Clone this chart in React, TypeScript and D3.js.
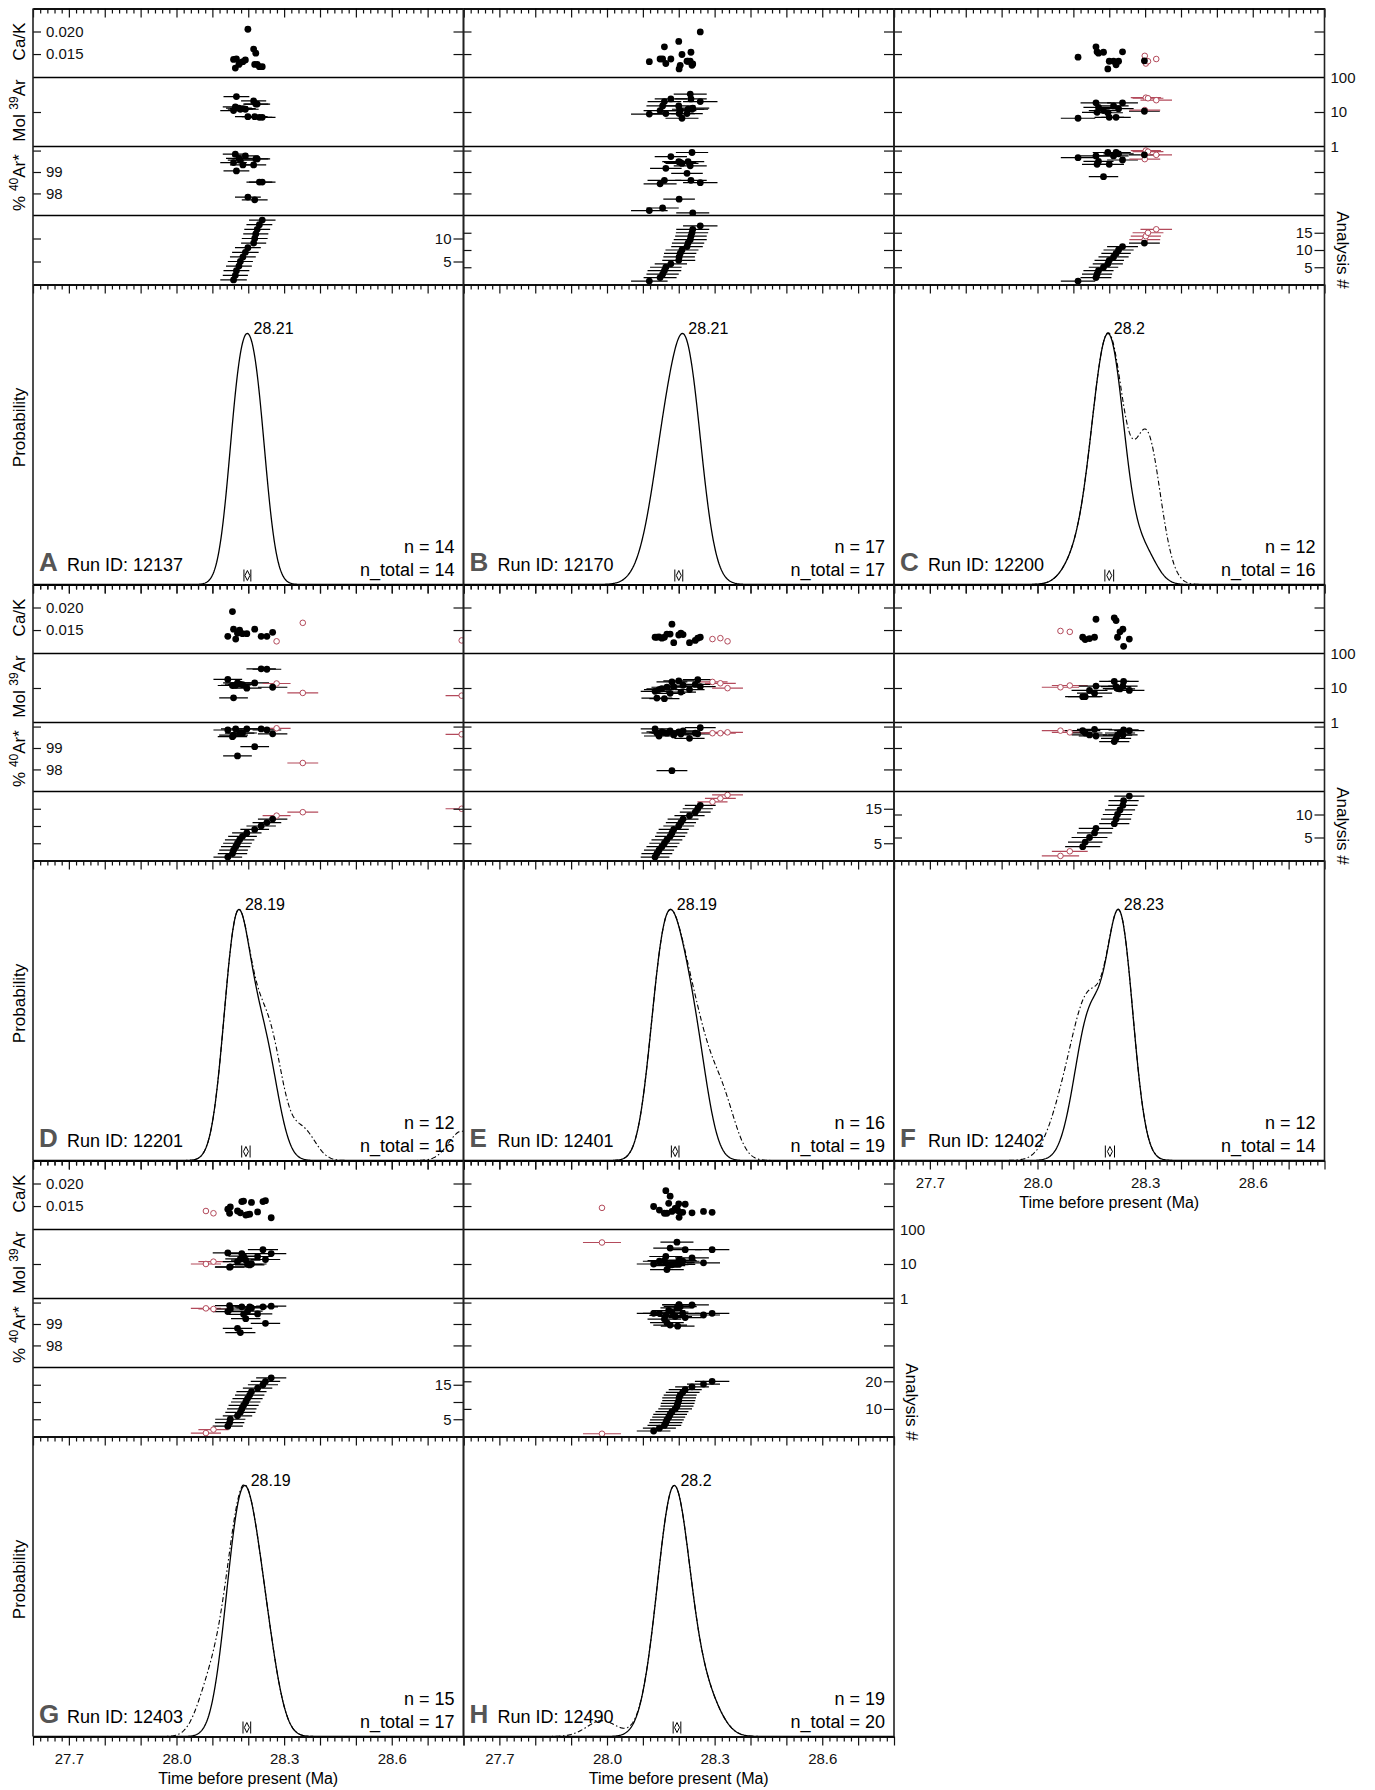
import React, { useEffect, useRef } from 'react';
import * as d3 from 'd3';

// one row per analysis: [age (Ma), 1 sigma (Ma), Ca/K, mol 39Ar, % 40Ar*, excluded]
const runA = [
  [28.159, 0.037, 0.0138, 11, 99.44, 0],
  [28.164, 0.035, 0.0119, 14, 99.83, 0],
  [28.167, 0.036, 0.0139, 28, 99.05, 0],
  [28.174, 0.036, 0.0127, 13, 99.64, 0],
  [28.178, 0.035, 0.0131, 12, 99.55, 0],
  [28.185, 0.036, 0.0133, 12.5, 99.33, 0],
  [28.192, 0.037, 0.0137, 12, 99.75, 0],
  [28.199, 0.036, 0.0205, 7.3, 97.83, 0],
  [28.215, 0.035, 0.0161, 21, 99.33, 0],
  [28.218, 0.036, 0.0127, 7.3, 97.7, 0],
  [28.221, 0.035, 0.0152, 17, 99.61, 0],
  [28.225, 0.036, 0.0127, 17, 99.61, 0],
  [28.231, 0.036, 0.0122, 7, 98.53, 0],
  [28.239, 0.037, 0.0122, 7, 98.53, 0],
];
const runB = [
  [28.118, 0.051, 0.0133, 8.7, 97.2, 0],
  [28.148, 0.046, 0.0139, 11, 98.45, 0],
  [28.155, 0.045, 0.0139, 15, 97.32, 0],
  [28.16, 0.047, 0.0166, 20, 98.61, 0],
  [28.164, 0.044, 0.0129, 9, 99.17, 0],
  [28.178, 0.045, 0.0139, 24, 99.72, 0],
  [28.2, 0.046, 0.0178, 15, 99.48, 0],
  [28.201, 0.044, 0.0117, 9, 97.73, 0],
  [28.204, 0.045, 0.0125, 11, 99.45, 0],
  [28.209, 0.046, 0.0149, 6.6, 99.4, 0],
  [28.223, 0.044, 0.0134, 9, 98.94, 0],
  [28.226, 0.045, 0.0134, 12, 99.48, 0],
  [28.232, 0.046, 0.0134, 33, 99.29, 0],
  [28.234, 0.044, 0.0154, 24, 98.61, 0],
  [28.237, 0.045, 0.0125, 12, 99.91, 0],
  [28.239, 0.046, 0.0128, 13, 97.09, 0],
  [28.26, 0.048, 0.0199, 20, 98.5, 0],
];
const runC = [
  [28.113, 0.048, 0.0143, 6.6, 99.67, 0],
  [28.163, 0.043, 0.0166, 18.5, 99.75, 0],
  [28.166, 0.042, 0.0155, 9.8, 99.36, 0],
  [28.17, 0.042, 0.0152, 13.7, 99.5, 0],
  [28.184, 0.041, 0.0154, 11, 98.78, 0],
  [28.196, 0.042, 0.0117, 9.5, 99.91, 0],
  [28.2, 0.041, 0.0134, 7, 99.36, 0],
  [28.212, 0.042, 0.0134, 15, 99.75, 0],
  [28.219, 0.041, 0.0126, 7, 99.91, 0],
  [28.226, 0.042, 0.0134, 12.5, 99.85, 0],
  [28.237, 0.043, 0.0155, 18.5, 99.56, 0],
  [28.298, 0.043, 0.0135, 10.5, 99.8, 0],
  [28.299, 0.043, 0.0146, 11.4, 99.6, 1],
  [28.302, 0.042, 0.0129, 26, 100.0, 1],
  [28.308, 0.043, 0.0134, 25, 99.95, 1],
  [28.331, 0.044, 0.0139, 22, 99.8, 1],
];
const runD = [
  [28.143, 0.04, 0.0136, 17.7, 99.84, 0],
  [28.156, 0.041, 0.0191, 11.8, 99.53, 0],
  [28.159, 0.04, 0.0152, 5.2, 99.6, 0],
  [28.165, 0.041, 0.013, 12, 99.89, 0],
  [28.17, 0.04, 0.0143, 14, 98.63, 0],
  [28.176, 0.041, 0.015, 13, 99.69, 0],
  [28.184, 0.04, 0.0142, 12.5, 99.7, 0],
  [28.196, 0.041, 0.0142, 9.9, 99.89, 0],
  [28.218, 0.04, 0.0152, 14, 99.06, 0],
  [28.236, 0.041, 0.0136, 36, 99.89, 0],
  [28.252, 0.04, 0.0136, 35, 99.84, 0],
  [28.268, 0.041, 0.0145, 10.5, 99.66, 0],
  [28.279, 0.039, 0.0125, 13.5, 99.92, 1],
  [28.352, 0.043, 0.0166, 7.2, 98.3, 1],
  [28.795, 0.045, 0.0127, 6, 99.64, 1],
  [28.95, 0.045, 0.013, 6, 99.6, 1],
];
const runE = [
  [28.134, 0.04, 0.0134, 8, 99.89, 0],
  [28.139, 0.043, 0.0134, 5.1, 99.7, 0],
  [28.145, 0.042, 0.0135, 9, 99.56, 0],
  [28.153, 0.043, 0.0132, 9.5, 99.75, 0],
  [28.16, 0.042, 0.0134, 4.9, 99.72, 0],
  [28.167, 0.043, 0.0141, 10.5, 99.69, 0],
  [28.176, 0.042, 0.0141, 7, 99.8, 0],
  [28.181, 0.043, 0.0163, 15, 97.94, 0],
  [28.186, 0.042, 0.0122, 11, 99.61, 0],
  [28.2, 0.043, 0.0139, 16, 99.75, 0],
  [28.206, 0.042, 0.0143, 7.6, 99.65, 0],
  [28.212, 0.043, 0.014, 12, 99.8, 0],
  [28.23, 0.042, 0.0122, 9, 99.45, 0],
  [28.246, 0.043, 0.0127, 12.7, 99.69, 0],
  [28.253, 0.042, 0.0132, 17.4, 99.66, 0],
  [28.26, 0.043, 0.0134, 11, 99.95, 0],
  [28.294, 0.042, 0.013, 15, 99.69, 1],
  [28.316, 0.043, 0.0132, 13.7, 99.69, 1],
  [28.336, 0.043, 0.0125, 9.9, 99.73, 1],
];
const runF = [
  [28.064, 0.052, 0.0148, 10.5, 99.81, 1],
  [28.09, 0.05, 0.0146, 11.8, 99.73, 1],
  [28.126, 0.049, 0.0134, 5.6, 99.81, 0],
  [28.133, 0.048, 0.0129, 5.6, 99.7, 0],
  [28.145, 0.05, 0.0131, 8.5, 99.61, 0],
  [28.159, 0.049, 0.0134, 7.1, 99.87, 0],
  [28.163, 0.048, 0.0174, 11.4, 99.56, 0],
  [28.214, 0.042, 0.0177, 15.5, 99.3, 0],
  [28.219, 0.042, 0.0171, 11, 99.45, 0],
  [28.223, 0.041, 0.0134, 9.6, 99.6, 0],
  [28.23, 0.042, 0.0146, 9.4, 99.7, 0],
  [28.238, 0.041, 0.0152, 11.4, 99.61, 0],
  [28.24, 0.042, 0.0114, 15.5, 99.85, 0],
  [28.256, 0.042, 0.013, 8.5, 99.81, 0],
];
const runG = [
  [28.082, 0.042, 0.0139, 10, 99.73, 1],
  [28.103, 0.042, 0.0134, 11.7, 99.7, 1],
  [28.143, 0.042, 0.0143, 21, 99.58, 0],
  [28.148, 0.041, 0.0134, 8.1, 99.86, 0],
  [28.15, 0.042, 0.0148, 8.3, 99.7, 0],
  [28.17, 0.041, 0.0139, 11.7, 98.8, 0],
  [28.178, 0.042, 0.0135, 14, 98.6, 0],
  [28.182, 0.041, 0.016, 20, 99.8, 0],
  [28.187, 0.042, 0.0161, 17, 99.45, 0],
  [28.193, 0.041, 0.013, 13, 99.25, 0],
  [28.198, 0.042, 0.0131, 9.7, 99.6, 0],
  [28.204, 0.041, 0.0132, 9.4, 99.8, 0],
  [28.209, 0.042, 0.0158, 10, 99.75, 0],
  [28.226, 0.041, 0.0137, 16.5, 99.47, 0],
  [28.241, 0.042, 0.016, 26, 99.8, 0],
  [28.248, 0.041, 0.0162, 13.5, 99.03, 0],
  [28.264, 0.042, 0.0124, 20, 99.83, 0],
];
const runH = [
  [27.986, 0.053, 0.0146, 42, 96.0, 1],
  [28.13, 0.047, 0.0149, 10, 99.5, 0],
  [28.146, 0.046, 0.0141, 12, 99.5, 0],
  [28.16, 0.047, 0.0134, 12.5, 99.23, 0],
  [28.164, 0.046, 0.0184, 16.5, 99.4, 0],
  [28.167, 0.047, 0.0134, 6.9, 99.06, 0],
  [28.172, 0.046, 0.0156, 9, 99.63, 0],
  [28.176, 0.047, 0.0172, 29, 98.95, 0],
  [28.181, 0.046, 0.0138, 9.5, 99.55, 0],
  [28.19, 0.047, 0.0145, 9.7, 99.35, 0],
  [28.195, 0.046, 0.0146, 43, 99.75, 0],
  [28.197, 0.047, 0.014, 11, 98.9, 0],
  [28.2, 0.046, 0.0155, 9.7, 99.89, 0],
  [28.201, 0.047, 0.0125, 13, 99.9, 0],
  [28.204, 0.046, 0.0136, 12.5, 99.81, 0],
  [28.211, 0.047, 0.0136, 12, 99.5, 0],
  [28.218, 0.046, 0.0154, 26, 99.3, 0],
  [28.237, 0.047, 0.0135, 15, 99.89, 0],
  [28.269, 0.046, 0.0138, 10.8, 99.42, 0],
  [28.293, 0.048, 0.0136, 26, 99.5, 0],
];

const runs = [runA, runB, runC, runD, runE, runF, runG, runH];
const letters = ['A', 'B', 'C', 'D', 'E', 'F', 'G', 'H'];
const runIds = ['12137', '12170', '12200', '12201', '12401', '12402', '12403', '12490'];
const peakLabels = ['28.21', '28.21', '28.2', '28.19', '28.19', '28.23', '28.19', '28.2'];
const rankMax = [15, 20, 20, 20, 20, 15, 20, 25];
const rankTicks = [[5, 10], [5, 10, 15], [5, 10, 15], [5, 10, 15], [5, 10, 15], [5, 10], [5, 10, 15], [10, 20]];
const rankLabels = [[5, 10], [], [5, 10, 15], [], [5, 15], [5, 10], [5, 15], [10, 20]];
const panelCol = [0, 1, 2, 0, 1, 2, 0, 1];
const panelRow = [0, 0, 0, 1, 1, 1, 2, 2];
const rightEdge = [2, 5, 7];
const labelledBottom = [5, 6, 7];

const xDomain = [27.6, 28.8];
const xTickLabels = [27.7, 28.0, 28.3, 28.6];
const caKDomain = [0.0098, 0.0251];
const caKTicks = [0.015, 0.02];
const molDomain = [1, 100];
const molTicks = [1, 10, 100];
const arDomain = [96.97, 100.19];
const arTicks = [98, 99, 100];
const arLabels = [98, 99];

const FONT = 'Liberation Sans, Arial, Helvetica, sans-serif';
const RED = '#b34a5b';
const colLeft = [33, 463.5, 894];
const panelW = 430.5;
const rowTop = [8.5, 584.5, 1160.5];
const stripH = 69;
const probH = 300;
// the density curves are narrower than the plotted error bars
const densitySigmaScale = 0.8;

const drawPanel = (svg, run, i) => {
  const rows = [...run].sort((a, b) => a[0] - b[0]);
  const incl = rows.filter(d => !d[5]);
  const left = colLeft[panelCol[i]];
  const right = left + panelW;
  const top = rowTop[panelRow[i]];
  const s1 = top + stripH, s2 = top + 2 * stripH, s3 = top + 3 * stripH, s4 = top + 4 * stripH;
  const bottom = s4 + probH;

  const x = d3.scaleLinear().domain(xDomain).range([left, right]);
  const yCa = d3.scaleLinear().domain(caKDomain).range([s1, top]);
  const yMol = d3.scaleLog().domain(molDomain).range([s2, s1]);
  const yAr = d3.scaleLinear().domain(arDomain).range([s3, s2]);
  const yRank = d3.scaleLinear().domain([0, rankMax[i]]).range([s4, s3]);

  const g = svg.append('g').attr('font-family', FONT);
  const defs = g.append('defs');
  [[top, s1], [s1, s2], [s2, s3], [s3, s4], [s4, bottom]].forEach(([a, b], k) => {
    defs.append('clipPath').attr('id', `c${i}-${k}`).append('rect')
      .attr('x', left).attr('y', a).attr('width', panelW).attr('height', b - a);
  });
  const band = k => g.append('g').attr('clip-path', `url(#c${i}-${k})`);

  // points in the four strips
  const strips = [
    { k: 0, y: d => yCa(d[2]), bars: false },
    { k: 1, y: d => yMol(d[3]), bars: true },
    { k: 2, y: d => yAr(d[4]), bars: true },
    { k: 3, y: (d, r) => yRank(r + 1), bars: true },
  ];
  strips.forEach(s => {
    const b = band(s.k);
    const pts = rows.map((d, r) => ({ d, y: s.y(d, r) }));
    if (s.bars) {
      b.append('g').selectAll('line').data(pts).join('line')
        .attr('x1', p => x(p.d[0] - p.d[1])).attr('x2', p => x(p.d[0] + p.d[1]))
        .attr('y1', p => p.y).attr('y2', p => p.y)
        .attr('stroke', p => (p.d[5] ? RED : '#000')).attr('stroke-width', 1.2);
    }
    b.append('g').selectAll('circle').data(pts.filter(p => p.d[5])).join('circle')
      .attr('cx', p => x(p.d[0])).attr('cy', p => p.y).attr('r', 2.8)
      .attr('fill', '#fff').attr('stroke', RED).attr('stroke-width', 1);
    b.append('g').selectAll('circle').data(pts.filter(p => !p.d[5])).join('circle')
      .attr('cx', p => x(p.d[0])).attr('cy', p => p.y).attr('r', 3.4).attr('fill', '#000');
  });

  // probability density
  const grid = d3.range(0, 601).map(k => xDomain[0] + (k * (xDomain[1] - xDomain[0])) / 600);
  const density = (set, t) => d3.sum(set, d => {
    const s = d[1] * densitySigmaScale;
    return Math.exp(-0.5 * ((t - d[0]) / s) ** 2) / s;
  });
  const solid = grid.map(t => [t, density(incl, t)]);
  const all = grid.map(t => [t, density(rows, t)]);
  const peak = d3.greatest(solid, p => p[1]);
  const yP = d3.scaleLinear().domain([0, peak[1] * 1.195]).range([bottom, s4]);
  const line = d3.line().x(p => x(p[0])).y(p => yP(p[1]));
  const pb = band(4);
  if (incl.length < rows.length) {
    pb.append('path').attr('d', line(all)).attr('fill', 'none').attr('stroke', '#000')
      .attr('stroke-width', 1.1).attr('stroke-dasharray', '5,2.5,1.5,2.5');
  }
  pb.append('path').attr('d', line(solid)).attr('fill', 'none').attr('stroke', '#000').attr('stroke-width', 1.3);

  g.append('text').attr('x', x(peak[0]) + 6).attr('y', yP(peak[1]) + 1)
    .attr('font-size', 16).text(peakLabels[i]);

  // weighted mean marker
  const wSum = d3.sum(incl, d => 1 / d[1] ** 2);
  const wMean = d3.sum(incl, d => d[0] / d[1] ** 2) / wSum;
  const wErr = 1 / Math.sqrt(wSum);
  const mx = x(wMean), my = bottom - 9;
  const mk = g.append('g').attr('stroke', '#000').attr('stroke-width', 1).attr('fill', 'none');
  [x(wMean - wErr), x(wMean + wErr)].forEach(xx => {
    mk.append('line').attr('x1', xx).attr('x2', xx).attr('y1', my - 6).attr('y2', my + 6);
  });
  mk.append('path').attr('d', `M${mx},${my - 5}L${mx + 2.5},${my}L${mx},${my + 5}L${mx - 2.5},${my}Z`);

  // x axes
  const major = d3.range(13).map(k => +(xDomain[0] + k * 0.1).toFixed(2));
  const minor = d3.range(61).filter(k => k % 5).map(k => +(xDomain[0] + k * 0.02).toFixed(2));
  [top, s4, bottom].forEach(yy => {
    const a = g.append('g').attr('transform', `translate(0,${yy})`);
    a.append('g').call(d3.axisBottom(x).tickValues(major).tickSize(9).tickSizeOuter(0).tickFormat(() => ''));
    a.append('g').call(d3.axisBottom(x).tickValues(minor).tickSize(5).tickSizeOuter(0).tickFormat(() => ''));
  });
  [s1, s2, s3].forEach(yy => {
    g.append('line').attr('x1', left).attr('x2', right).attr('y1', yy).attr('y2', yy)
      .attr('stroke', '#000').attr('stroke-width', 1.6);
  });

  if (labelledBottom.includes(i)) {
    g.append('g').attr('transform', `translate(0,${bottom})`)
      .call(d3.axisBottom(x).tickValues(xTickLabels).tickSize(0).tickPadding(17).tickFormat(d3.format('.1f')))
      .call(s => s.select('.domain').remove())
      .attr('font-size', 15).attr('font-family', FONT);
    g.append('text').attr('x', (left + right) / 2).attr('y', bottom + 47).attr('text-anchor', 'middle')
      .attr('font-size', 16).text('Time before present (Ma)');
  }

  // y ticks, inward on both sides
  const first = panelCol[i] === 0;
  const yAxes = [
    { scale: yCa, ticks: caKTicks, labels: first ? caKTicks : [], fmt: d3.format('.3f') },
    { scale: yMol, ticks: [10], labels: [], fmt: d3.format('d') },
    { scale: yAr, ticks: arTicks, labels: first ? arLabels : [], fmt: d3.format('d') },
    { scale: yRank, ticks: rankTicks[i], labels: [], fmt: d3.format('d') },
  ];
  yAxes.forEach(ax => {
    g.append('g').attr('transform', `translate(${left},0)`)
      .call(d3.axisRight(ax.scale).tickValues(ax.ticks).tickSize(8).tickPadding(5)
        .tickFormat(v => (ax.labels.includes(v) ? ax.fmt(v) : '')))
      .call(s => s.select('.domain').remove())
      .attr('font-size', 15).attr('font-family', FONT);
    g.append('g').attr('transform', `translate(${right},0)`)
      .call(d3.axisLeft(ax.scale).tickValues(ax.ticks).tickSize(10).tickPadding(2)
        .tickFormat(v => (ax.scale === yRank && rankLabels[i].includes(v) ? String(v) : '')))
      .call(s => s.select('.domain').remove())
      .attr('font-size', 15).attr('font-family', FONT);
  });

  if (rightEdge.includes(i)) {
    g.append('g').attr('transform', `translate(${right},0)`)
      .call(d3.axisRight(yMol).tickValues(molTicks).tickSize(0).tickPadding(6).tickFormat(d3.format('d')))
      .call(s => s.select('.domain').remove())
      .attr('font-size', 15).attr('font-family', FONT);
    g.append('text').attr('transform', `translate(${right + 12},${(s3 + s4) / 2}) rotate(90)`)
      .attr('text-anchor', 'middle').attr('font-size', 17).text('Analysis #');
  }

  g.selectAll('.tick line').attr('stroke', '#111').attr('stroke-width', 1.2);
  g.selectAll('.domain').attr('stroke', '#000').attr('stroke-width', 1.6);
  g.selectAll('.tick text').attr('fill', '#111');

  [left, right].forEach(xx => {
    g.append('line').attr('x1', xx).attr('x2', xx).attr('y1', top).attr('y2', bottom)
      .attr('stroke', '#222').attr('stroke-width', 1.6);
  });

  // left titles
  if (first) {
    const title = (y, parts) => {
      const t = g.append('text').attr('transform', `translate(25,${y}) rotate(-90)`)
        .attr('text-anchor', 'middle').attr('font-size', 17);
      parts.forEach(([txt, sup]) => {
        t.append('tspan').attr('dy', sup === 1 ? -7 : sup === -1 ? 7 : 0)
          .attr('font-size', sup === 1 ? 12 : 17).text(txt);
      });
    };
    title(top + 33, [['Ca/K', 0]]);
    title(s1 + 33, [['Mol ', 0], ['39', 1], ['Ar', -1]]);
    title(s2 + 36, [['% ', 0], ['40', 1], ['Ar*', -1]]);
    title(s4 + 143, [['Probability', 0]]);
  }

  // panel labels
  g.append('text').attr('x', left + 6).attr('y', bottom - 14).attr('font-size', 26)
    .attr('font-weight', 'bold').attr('fill', '#555').text(letters[i]);
  g.append('text').attr('x', left + 34).attr('y', bottom - 14).attr('font-size', 18).text(`Run ID: ${runIds[i]}`);
  g.append('text').attr('x', right - 9).attr('y', bottom - 32).attr('text-anchor', 'end')
    .attr('font-size', 18).text(`n = ${incl.length}`);
  g.append('text').attr('x', right - 9).attr('y', bottom - 9).attr('text-anchor', 'end')
    .attr('font-size', 18).text(`n_total = ${rows.length}`);
};

const App = () => {
  const ref = useRef(null);

  useEffect(() => {
    const svg = d3.select(ref.current);
    svg.selectAll('*').remove();
    runs.forEach((run, i) => drawPanel(svg, run, i));
  }, []);

  return (
    <svg ref={ref} width={1375} height={1790}
      style={{ position: 'absolute', left: 0, top: 0, background: '#fff' }} />
  );
};

export default App;
